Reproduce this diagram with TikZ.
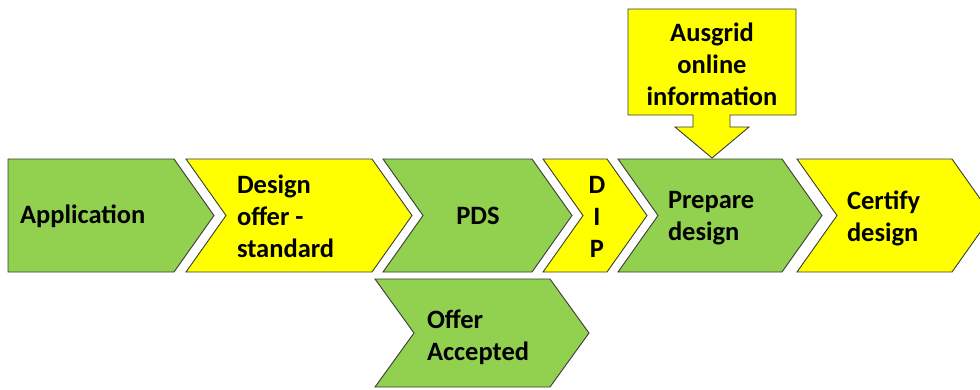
\documentclass[tikz,border=0pt]{standalone}
\usepackage{fontspec}
\setmainfont{Carlito}
\definecolor{chgreen}{HTML}{92D050}
\definecolor{chyellow}{HTML}{FFFF00}
\definecolor{chline}{HTML}{3A3A3A}
\tikzset{
  shp/.style={draw=chline, line width=0.9pt, line join=miter},
  gshp/.style={shp, fill=chgreen},
  yshp/.style={shp, fill=chyellow},
  lbl/.style={inner sep=0pt, outer sep=0pt, text=black,
    font=\fontsize{26.5}{32}\selectfont\bfseries},
}
\begin{document}
\begin{tikzpicture}[x=1pt,y=-1pt]
\useasboundingbox (0,0) rectangle (980,389);
\clip (0,0) rectangle (980,389);
% chevrons row
\draw[gshp] (8,159) -- (174,159) -- (214,215.5) -- (174,272) -- (8,272) -- cycle;
\draw[yshp] (186,159) -- (372,159) -- (412,215.5) -- (372,272) -- (186,272) -- (226,215.5) -- cycle;
\draw[gshp] (383,159) -- (532,159) -- (572,215.5) -- (532,272) -- (383,272) -- (423,215.5) -- cycle;
\draw[yshp] (543,159) -- (607,159) -- (647,215.5) -- (607,272) -- (543,272) -- (583,215.5) -- cycle;
\draw[gshp] (618,159) -- (782,159) -- (822,215.5) -- (782,272) -- (618,272) -- (658,215.5) -- cycle;
\draw[yshp] (797,159) -- (952,159) -- (992,215.5) -- (952,272) -- (797,272) -- (837,215.5) -- cycle;
% offer accepted
\draw[gshp] (375,279) -- (550,279) -- (589,333) -- (550,387) -- (375,387) -- (414,333) -- cycle;
% callout
\draw[yshp] (628,9) -- (796,9) -- (796,115) -- (730,115) -- (730,127) -- (749,127)
  -- (712,158) -- (675,127) -- (693,127) -- (693,115) -- (628,115) -- cycle;
% labels
\node[lbl, anchor=west] (app) at (20,216) {Application};
\node[lbl, anchor=west, align=left] (des) at (237,216) {Design\\offer -\\standard};
\node[lbl] (pds) at (478,216) {PDS};
\node[lbl, align=center] (dip) at (597,217) {D\\I\\P};
\node[lbl, anchor=west, align=left] (prep) at (668,218) {Prepare\\design};
\node[lbl, anchor=west, align=left] (cert) at (847,218) {Certify\\design};
\node[lbl, align=center] (aus) at (712,64) {Ausgrid\\online\\information};
\node[lbl, anchor=west, align=left] (off) at (427,337) {Offer\\Accepted};
\end{tikzpicture}
\end{document}
